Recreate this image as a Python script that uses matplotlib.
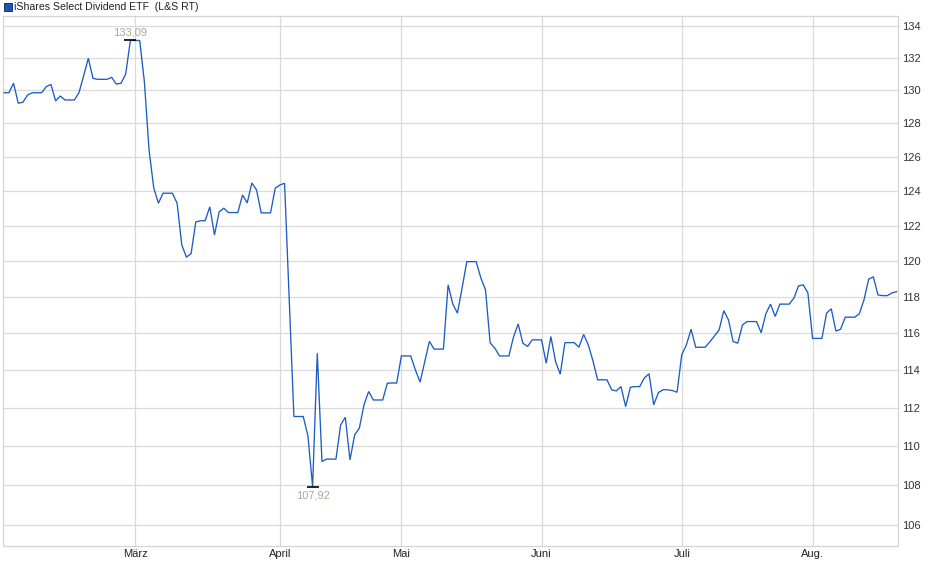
import numpy as np
import matplotlib
matplotlib.use("Agg")
import matplotlib.pyplot as plt
from matplotlib.patches import Rectangle
from matplotlib.ticker import FixedLocator, NullLocator, FixedFormatter

plt.rcParams['font.family'] = ['Liberation Sans', 'DejaVu Sans']

title = "iShares Select Dividend ETF  (L&S RT)"

prices = [
    129.86, 129.86, 130.44, 129.22, 129.28, 129.72, 129.86, 129.86, 129.86, 130.23,
    130.37, 129.36, 129.66, 129.42, 129.42, 129.42, 129.86, 130.90, 131.98, 130.74,
    130.68, 130.68, 130.68, 130.80, 130.39, 130.44, 131.01, 133.09, 133.09, 133.09,
    130.52, 126.41, 124.18, 123.29, 123.87, 123.87, 123.87, 123.29, 120.90, 120.20,
    120.41, 122.21, 122.28, 122.28, 123.08, 121.47, 122.79, 123.00, 122.75, 122.75,
    122.75, 123.77, 123.31, 124.47, 124.06, 122.73, 122.73, 122.73, 124.16, 124.35,
    124.45, 117.80, 111.53, 111.53, 111.53, 110.52, 107.92, 114.90, 109.20, 109.32,
    109.32, 109.32, 111.09, 111.49, 109.28, 110.57, 110.92, 112.14, 112.85, 112.40,
    112.40, 112.40, 113.29, 113.30, 113.30, 114.75, 114.75, 114.75, 114.00, 113.35,
    114.43, 115.54, 115.12, 115.12, 115.12, 118.65, 117.59, 117.08, 118.48, 119.95,
    119.95, 119.95, 119.04, 118.37, 115.46, 115.17, 114.75, 114.75, 114.75, 115.78,
    116.49, 115.44, 115.26, 115.62, 115.62, 115.62, 114.36, 115.80, 114.45, 113.77,
    115.47, 115.47, 115.47, 115.22, 115.92, 115.35, 114.49, 113.47, 113.47, 113.47,
    112.94, 112.88, 113.11, 112.05, 113.07, 113.11, 113.11, 113.57, 113.79, 112.14,
    112.79, 112.94, 112.94, 112.90, 112.81, 114.81, 115.35, 116.20, 115.22, 115.22,
    115.22, 115.51, 115.83, 116.16, 117.22, 116.71, 115.53, 115.44, 116.44, 116.62,
    116.62, 116.62, 116.01, 117.04, 117.58, 116.90, 117.58, 117.58, 117.58, 117.91,
    118.59, 118.65, 118.20, 115.70, 115.70, 115.70, 117.08, 117.32, 116.10, 116.20,
    116.86, 116.86, 116.86, 117.04, 117.81, 118.96, 119.10, 118.09, 118.05, 118.05,
    118.20, 118.27,
]

month_labels = ["März", "April", "Mai", "Juni", "Juli", "Aug."]
month_pos = [28, 59, 85, 115, 145, 173]
y_ticks = [106, 108, 110, 112, 114, 116, 118, 120, 122, 124, 126, 128, 130, 132, 134]

W, H = 940, 579
fig = plt.figure(figsize=(W / 100, H / 100), dpi=100)
L, R, T, B = 3, 898.3, 16.3, 545.5
ax = fig.add_axes([L / W, 1 - B / H, (R - L) / W, (B - T) / H])

x = np.arange(len(prices))
y = np.array(prices)
line_color = "#1d5cc4"
grid_color = "#dadada"

ax.set_yscale("log")
ax.plot(x, y, color=line_color, lw=0.95, zorder=3, solid_joinstyle="miter")

ax.set_xlim(-0.26, 191.35)
ax.set_ylim(104.97, 134.61)

ax.yaxis.set_major_locator(FixedLocator(y_ticks))
ax.yaxis.set_major_formatter(FixedFormatter([str(t) for t in y_ticks]))
ax.yaxis.set_minor_locator(NullLocator())
ax.xaxis.set_major_locator(FixedLocator(month_pos))
ax.xaxis.set_major_formatter(FixedFormatter(month_labels))
ax.xaxis.set_minor_locator(NullLocator())

ax.yaxis.tick_right()
ax.tick_params(axis="y", which="major", length=0, labelsize=8,
               labelcolor="#333333", pad=2.6)
ax.tick_params(axis="x", which="major", length=0, labelsize=8,
               labelcolor="#222222", pad=2.5)
ax.grid(True, which="major", color=grid_color, lw=0.9, zorder=0)
ax.set_axisbelow(True)
for s in ax.spines.values():
    s.set_color("#d4d4d4")
    s.set_linewidth(0.9)

# max / min markers
imax = int(np.argmax(y))
imin = int(np.argmin(y))
fmt = lambda v: f"{v:.2f}".replace(".", ",")
label_color = "#b3a797"
for i, dy in [(imax, 8), (imin, -9)]:
    ax.plot([x[i]], [y[i]], marker="_", markersize=9, mew=1.2, color="black", zorder=4)
    ax.annotate(fmt(y[i]), (x[i], y[i]), xytext=(0, dy), textcoords="offset pixels",
                ha="center", va="center", fontsize=8, color=label_color, zorder=5)

# legend/title at top left
fig.add_artist(Rectangle((4 / W, 1 - 10.5 / H), 7.5 / W, 7.5 / H, transform=fig.transFigure,
                         facecolor="#1b55b8", edgecolor="#14376f", lw=0.7))
fig.text(14.5 / W, 1 - 6.8 / H, title, ha="left", va="center", fontsize=7.6, color="#222222")

fig.savefig("out.png", dpi=100)
